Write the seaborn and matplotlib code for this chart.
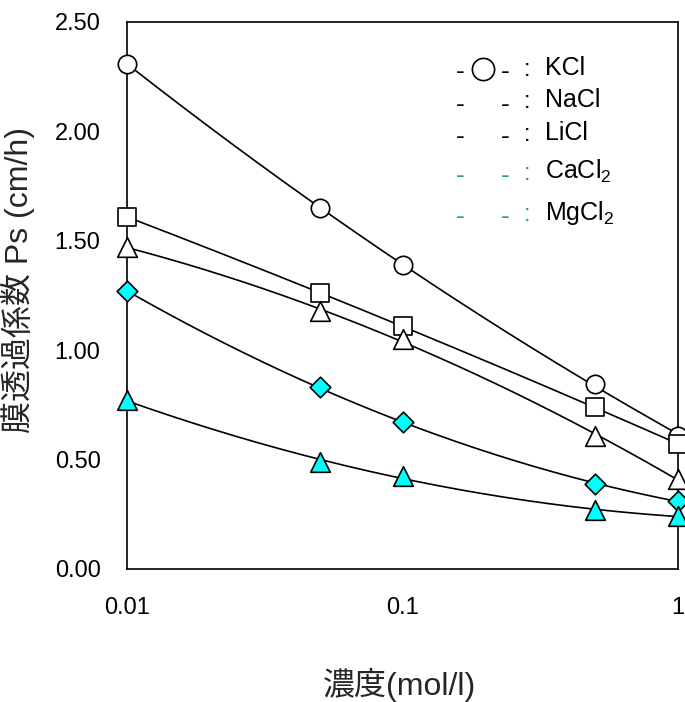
import numpy as np
import pandas as pd
import matplotlib
matplotlib.use("Agg")
import matplotlib.pyplot as plt
import seaborn as sns

# concentration (mol/l)
conc = [0.01, 0.05, 0.1, 0.5, 1.0]
salts = ["KCl", "NaCl", "LiCl", "CaCl$_2$", "MgCl$_2$"]
# membrane permeability Ps (cm/h)
ps_kcl = [2.31, 1.65, 1.39, 0.845, 0.61]
ps_nacl = [1.61, 1.26, 1.11, 0.74, 0.57]
ps_licl = [1.47, 1.18, 1.05, 0.61, 0.41]
ps_cacl2 = [1.27, 0.83, 0.67, 0.39, 0.31]
ps_mgcl2 = [0.77, 0.49, 0.425, 0.27, 0.24]
y_ticks = [0.0, 0.5, 1.0, 1.5, 2.0, 2.5]
x_ticks = [0.01, 0.1, 1]
x_tick_labels = ["0.01", "0.1", "1"]

series = [ps_kcl, ps_nacl, ps_licl, ps_cacl2, ps_mgcl2]
markers = ["o", "s", "^", "D", "^"]
faces = ["white", "white", "white", "#00FFFF", "#00FFFF"]
msizes = [175, 165, 200, 110, 200]

sns.set_style("white")
plt.rcParams["font.family"] = ["Liberation Sans", "Noto Sans CJK JP", "DejaVu Sans"]
plt.rcParams["mathtext.fontset"] = "custom"
plt.rcParams["mathtext.rm"] = "Liberation Sans"

fig = plt.figure(figsize=(6.85, 7.02), dpi=100)
ax = fig.add_axes([0.1854, 0.1895, 0.8044, 0.7792])

df = pd.DataFrame({
    "conc": np.tile(conc, len(salts)),
    "ps": np.concatenate(series),
    "salt": np.repeat(salts, len(conc)),
})

# smooth trend curve for each salt (quadratic in log concentration)
xs = np.logspace(np.log10(conc[0]), np.log10(conc[-1]), 200)
for name, vals in zip(salts, series):
    coef = np.polyfit(np.log10(conc), vals, 2)
    curve = pd.DataFrame({"conc": xs, "ps": np.polyval(coef, np.log10(xs))})
    sns.lineplot(data=curve, x="conc", y="ps", ax=ax, color="black",
                 linewidth=1.2, zorder=2)

for name, m, fc, s in zip(salts, markers, faces, msizes):
    sub = df[df["salt"] == name]
    sns.scatterplot(data=sub, x="conc", y="ps", ax=ax, marker=m, s=s,
                    facecolor=fc, edgecolor="black", linewidth=1.2,
                    zorder=3, clip_on=False, legend=False)

ax.set_xscale("log")
ax.set_xlim(0.01, 1)
ax.set_ylim(0, 2.5)
ax.set_xticks(x_ticks)
ax.set_xticklabels(x_tick_labels)
ax.xaxis.set_minor_locator(matplotlib.ticker.NullLocator())
ax.set_yticks(y_ticks)
ax.set_yticklabels([f"{v:.2f}" for v in y_ticks])
ax.tick_params(axis="both", direction="in", length=8, width=1,
               labelsize=17, colors="black")
ax.tick_params(axis="x", pad=20)
ax.tick_params(axis="y", pad=19)
for sp in ax.spines.values():
    sp.set_color("black")
    sp.set_linewidth(1.2)

ax.set_xlabel("濃度(mol/l)", fontsize=23)
ax.set_ylabel("膜透過係数 Ps (cm/h)", fontsize=23)
ax.xaxis.label.set_va("center")
ax.yaxis.label.set_va("center")
ax.xaxis.set_label_coords(0.494, -0.212)
ax.yaxis.set_label_coords(-0.198, 0.528)

# key drawn as text rows
rows_y = [0.916, 0.857, 0.797, 0.726, 0.651]
key_colors = ["black", "black", "black", "#2e9e6e", "#2e9e6e"]
for yy, name, col in zip(rows_y, salts, key_colors):
    for xx in (0.604, 0.686):
        ax.text(xx, yy - 0.008, "-", transform=ax.transAxes, fontsize=19,
                color=col, ha="center", va="center")
    ax.text(0.726, yy - 0.004, ":", transform=ax.transAxes, fontsize=17,
            color=col, ha="center", va="center")
    ax.text(0.759, yy, name, transform=ax.transAxes, fontsize=18,
            color="black", ha="left", va="center")
ax.plot([0.646], [rows_y[0] - 0.002], marker="o", ms=16, mfc="white",
        mec="black", mew=1.2, transform=ax.transAxes, clip_on=False)

fig.savefig("out.png", dpi=100)
